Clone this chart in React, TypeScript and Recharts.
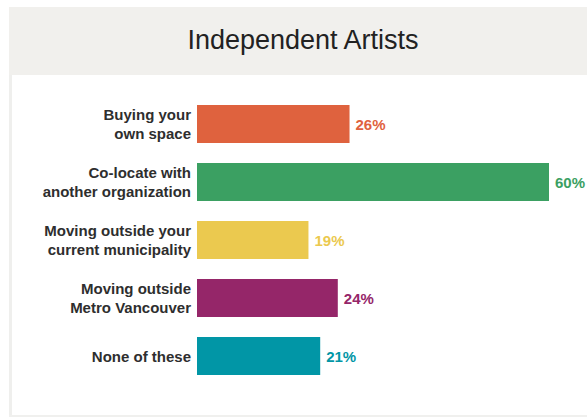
import { Bar, BarChart, Cell, LabelList, XAxis, YAxis } from "recharts";

const categories = [
  "Buying your\nown space",
  "Co-locate with\nanother organization",
  "Moving outside your\ncurrent municipality",
  "Moving outside\nMetro Vancouver",
  "None of these",
];
const shares = [26, 60, 19, 24, 21];
const barColors = ["#df623e", "#3ba062", "#ebc94f", "#952669", "#0196a6"];

const FONT = "'Liberation Sans', Arial, Helvetica, sans-serif";

const data = categories.map((name, i) => ({ name, value: shares[i] }));

function CategoryTick(props: any) {
  const { x, y, payload } = props;
  const lines: string[] = String(payload.value).split("\n");
  const first = lines.length === 1 ? 5.5 : -4;
  return (
    <text
      x={x}
      y={y}
      textAnchor="end"
      fill="#2e2e2e"
      fontFamily={FONT}
      fontSize={15}
      fontWeight="bold"
    >
      {lines.map((line, i) => (
        <tspan key={i} x={x} y={y + first + i * 19}>
          {line}
        </tspan>
      ))}
    </text>
  );
}

function ValueLabel(props: any) {
  const { x, y, width, height, value, index } = props;
  return (
    <text
      x={x + width + 6}
      y={y + height / 2 + 5.5}
      fill={barColors[index % barColors.length]}
      fontFamily={FONT}
      fontSize={15}
      fontWeight="bold"
    >
      {`${value}%`}
    </text>
  );
}

export default function App() {
  return (
    <div
      style={{
        position: "fixed",
        left: 0,
        top: 0,
        width: 587,
        height: 417,
        background: "#ffffff",
        overflow: "hidden",
      }}
    >
      {/* frame: title band, left strip, bottom rule */}
      <div
        style={{
          position: "absolute",
          left: 9,
          top: 7,
          width: 600,
          height: 68,
          background: "#f1f0ed",
        }}
      />
      <div
        style={{
          position: "absolute",
          left: 9,
          top: 75,
          width: 3,
          height: 341,
          background: "#efefed",
        }}
      />
      <div
        style={{
          position: "absolute",
          left: 9,
          top: 415,
          width: 600,
          height: 2,
          background: "#f0f0ee",
        }}
      />
      <div
        style={{
          position: "absolute",
          left: 0,
          top: 22,
          width: 606,
          textAlign: "center",
          fontFamily: FONT,
          fontSize: 27,
          color: "#222",
          lineHeight: "36px",
        }}
      >
        Independent Artists
      </div>
      <div style={{ position: "absolute", left: 0, top: 0 }}>
        <BarChart
          width={587}
          height={417}
          data={data}
          layout="vertical"
          margin={{ top: 95, right: 38, bottom: 32, left: 0 }}
          barSize={38}
        >
          <XAxis type="number" domain={[0, 60]} hide />
          <YAxis
            type="category"
            dataKey="name"
            width={197}
            axisLine={false}
            tickLine={false}
            tickSize={0}
            tickMargin={6}
            tick={<CategoryTick />}
            interval={0}
          />
          <Bar dataKey="value" isAnimationActive={false}>
            {data.map((_, i) => (
              <Cell key={i} fill={barColors[i]} />
            ))}
            <LabelList dataKey="value" content={<ValueLabel />} />
          </Bar>
        </BarChart>
      </div>
    </div>
  );
}
